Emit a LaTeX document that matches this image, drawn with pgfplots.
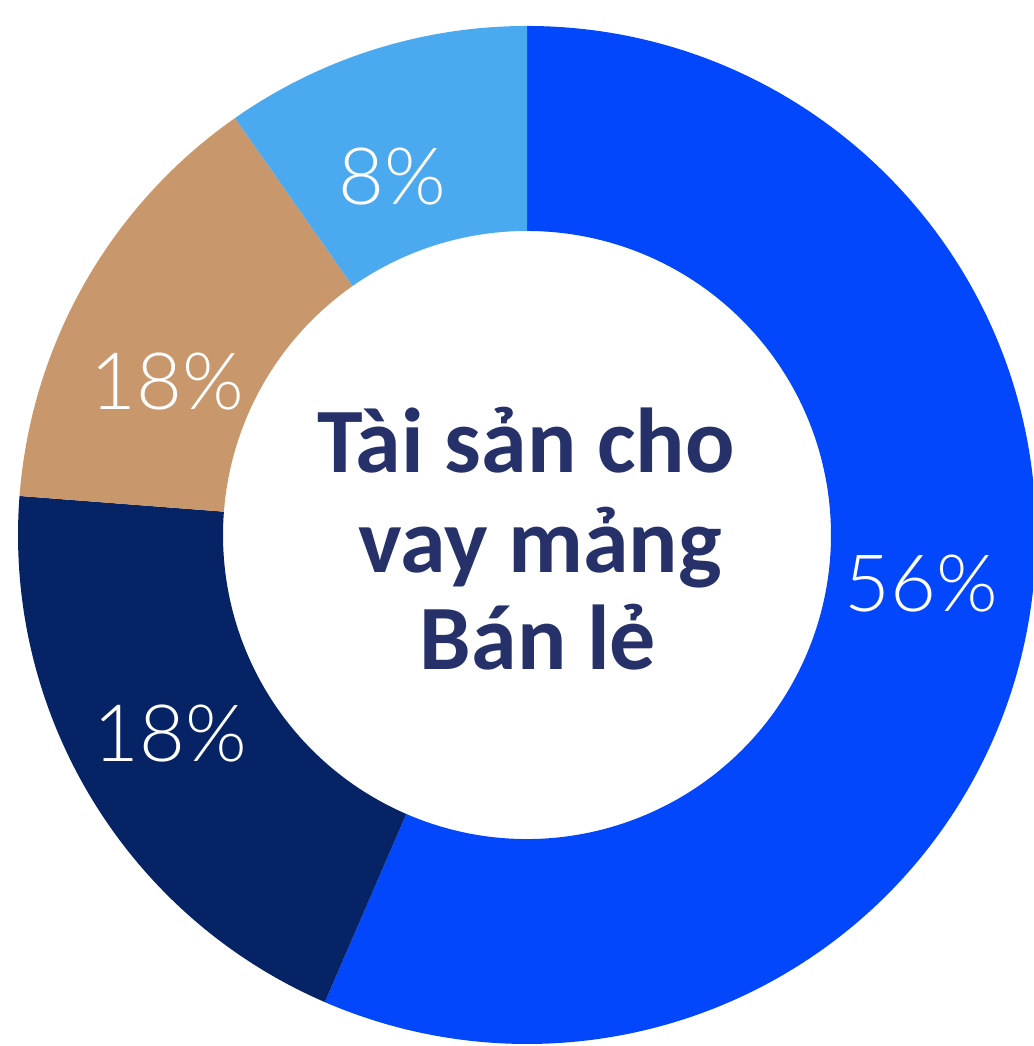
\documentclass[border=0pt]{standalone}
\usepackage{pgfplots}
\pgfplotsset{compat=1.18}
\usepackage{fontspec}
\setmainfont{Carlito}
\newfontfamily\lightfont{Lato Light}
\definecolor{cblue}{HTML}{0347FC}
\definecolor{cnavy}{HTML}{062366}
\definecolor{ctan}{HTML}{C9976C}
\definecolor{clight}{HTML}{4BAAEF}
\definecolor{ctext}{HTML}{263169}
\begin{document}
\begin{tikzpicture}
\begin{axis}[
  width=10.33cm, height=10.46cm, scale only axis,
  xmin=0, xmax=1033, ymin=0, ymax=1046,
  hide axis, clip=true]
% shares (percent of circle): 56.5, 19.7, 14.1, 9.7
% blue: 90 -> -113.4
\fill[cblue] (axis cs:527,511) ++(90:50.9mm) arc[start angle=90, end angle=-113.4, radius=50.9mm]
  -- ++(-113.4:-20.5mm) arc[start angle=-113.4, end angle=90, radius=30.4mm] -- cycle;
% navy: -113.4 -> -184.4
\fill[cnavy] (axis cs:527,511) ++(-113.4:50.9mm) arc[start angle=-113.4, end angle=-184.4, radius=50.9mm]
  -- ++(-184.4:-20.5mm) arc[start angle=-184.4, end angle=-113.4, radius=30.4mm] -- cycle;
% tan: -184.4 -> -235.0
\fill[ctan] (axis cs:527,511) ++(-184.4:50.9mm) arc[start angle=-184.4, end angle=-235.0, radius=50.9mm]
  -- ++(-235.0:-20.5mm) arc[start angle=-235.0, end angle=-184.4, radius=30.4mm] -- cycle;
% light blue: -235.0 -> -270
\fill[clight] (axis cs:527,511) ++(-235.0:50.9mm) arc[start angle=-235.0, end angle=-270, radius=50.9mm]
  -- ++(-270:-20.5mm) arc[start angle=-270, end angle=-235.0, radius=30.4mm] -- cycle;
% percentage labels
\node[anchor=base, text=white, font=\lightfont\fontsize{22.5}{26}\selectfont] at (axis cs:921,434) {56\%};
\node[anchor=base, text=white, font=\lightfont\fontsize{22.5}{26}\selectfont] at (axis cs:170,284) {18\%};
\node[anchor=base, text=white, font=\lightfont\fontsize{22.5}{26}\selectfont] at (axis cs:167,636) {18\%};
\node[anchor=base, text=white, font=\lightfont\fontsize{22.5}{26}\selectfont] at (axis cs:392,841) {8\%};
% centre title
\node[anchor=base, text=ctext, font=\bfseries\fontsize{26.2}{28}\selectfont] at (axis cs:526,573) {Tài sản cho};
\node[anchor=base, text=ctext, font=\bfseries\fontsize{26.2}{28}\selectfont] at (axis cs:540,473) {vay mảng};
\node[anchor=base, text=ctext, font=\bfseries\fontsize{26.2}{28}\selectfont] at (axis cs:538,376) {Bán lẻ};
\end{axis}
\pgfresetboundingbox
\path (current axis.south west) rectangle (current axis.north east);
\end{tikzpicture}
\end{document}
